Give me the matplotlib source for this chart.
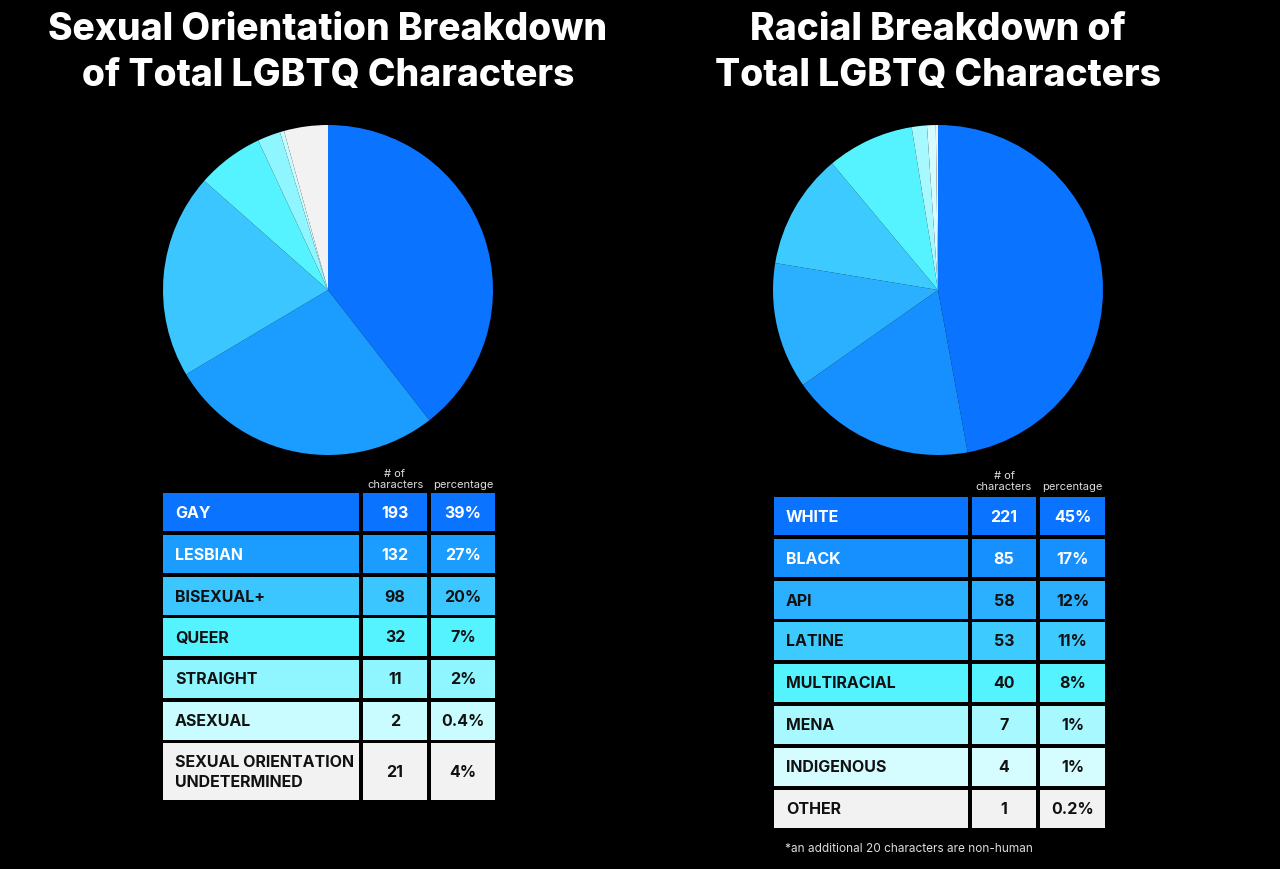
import matplotlib
matplotlib.use("Agg")
import matplotlib.pyplot as plt
from matplotlib.patches import Rectangle

plt.rcParams['font.family'] = ['Inter', 'DejaVu Sans']

# ---- Data ----
orient_labels = ["GAY", "LESBIAN", "BISEXUAL+", "QUEER", "STRAIGHT", "ASEXUAL",
                 "SEXUAL ORIENTATION\nUNDETERMINED"]
orient_counts = [193, 132, 98, 32, 11, 2, 21]
orient_pcts = ["39%", "27%", "20%", "7%", "2%", "0.4%", "4%"]
orient_colors = ["#0A73FF", "#1A9DFF", "#3CC6FF", "#55F3FF", "#8FF6FF", "#C8FCFF", "#F2F2F2"]
orient_text = ["white", "white", "#111111", "#111111", "#111111", "#111111", "#111111"]

race_labels = ["WHITE", "BLACK", "API", "LATINE", "MULTIRACIAL", "MENA", "INDIGENOUS", "OTHER"]
race_counts = [221, 85, 58, 53, 40, 7, 4, 1]
race_pcts = ["45%", "17%", "12%", "11%", "8%", "1%", "1%", "0.2%"]
race_colors = ["#0A73FF", "#1690FF", "#2BAFFF", "#3DCBFF", "#55F3FF", "#A8F8FF", "#D5FCFF", "#F2F2F2"]
race_text = ["white", "white", "#111111", "#111111", "#111111", "#111111", "#111111", "#111111"]

W, H = 1280, 869
fig = plt.figure(figsize=(W / 100, H / 100), dpi=100, facecolor="black")
bg = fig.add_axes([0, 0, 1, 1])
bg.set_xlim(0, W)
bg.set_ylim(H, 0)
bg.axis("off")
bg.set_facecolor("black")


def pie_axes(cx, cy, r):
    ax = fig.add_axes([(cx - r) / W, 1 - (cy + r) / H, 2 * r / W, 2 * r / H])
    ax.set_facecolor("black")
    return ax


def draw_pie(cx, cy, r, counts, colors):
    ax = pie_axes(cx, cy, r)
    ax.pie(counts, colors=colors, startangle=90, counterclock=False,
           wedgeprops=dict(linewidth=0), radius=1.0)
    ax.set_xlim(-1, 1)
    ax.set_ylim(-1, 1)
    ax.set_aspect("equal")
    ax.axis("off")


def draw_table(x0, x1, x2, x3, x4, x5, tops, heights, labels, counts, pcts, colors, tcolors, header_y):
    for top, h, lab, c, p, col, tc in zip(tops, heights, labels, counts, pcts, colors, tcolors):
        for (a, b) in [(x0, x1), (x2, x3), (x4, x5)]:
            bg.add_patch(Rectangle((a, top), b - a, h, facecolor=col, edgecolor="none"))
        cy = top + h / 2 + 1
        bg.text(x0 + 12, cy, lab, color=tc, fontsize=11.5, fontweight="bold",
                va="center", ha="left", linespacing=1.45)
        bg.text((x2 + x3) / 2, cy, str(c), color=tc, fontsize=11.5, fontweight="bold",
                va="center", ha="center")
        bg.text((x4 + x5) / 2, cy, p, color=tc, fontsize=11.5, fontweight="bold",
                va="center", ha="center")
    bg.text((x2 + x3) / 2, header_y, "# of\ncharacters", color="#DDDDDD", fontsize=8,
            ha="center", va="bottom", linespacing=1.15)
    bg.text((x4 + x5) / 2, header_y, "percentage", color="#DDDDDD", fontsize=8,
            ha="center", va="bottom")


# ---- Titles ----
bg.text(328, 53, "Sexual Orientation Breakdown\nof Total LGBTQ Characters", color="white",
        fontsize=26.8, fontweight="heavy", ha="center", va="center", linespacing=1.35)
bg.text(938, 53, "Racial Breakdown of\nTotal LGBTQ Characters", color="white",
        fontsize=26.8, fontweight="heavy", ha="center", va="center", linespacing=1.35)

# ---- Pies ----
draw_pie(328, 290, 165, orient_counts, orient_colors)
draw_pie(938, 290, 165, race_counts, race_colors)

# ---- Tables ----
left_tops = [493, 535, 577, 618, 660, 702, 743]
left_h = [38, 38, 38, 38, 38, 38, 57]
draw_table(163, 359, 363, 427, 431, 495, left_tops, left_h,
           orient_labels, orient_counts, orient_pcts, orient_colors, orient_text, 490)

right_tops = [497, 539, 581, 622, 664, 706, 748, 790]
right_h = [38] * 8
draw_table(774, 968, 972, 1036, 1040, 1105, right_tops, right_h,
           race_labels, race_counts, race_pcts, race_colors, race_text, 492)

bg.text(785, 849, "*an additional 20 characters are non-human", color="#DDDDDD",
        fontsize=8.5, ha="left", va="center")

fig.savefig("out.png", dpi=100, facecolor="black")
